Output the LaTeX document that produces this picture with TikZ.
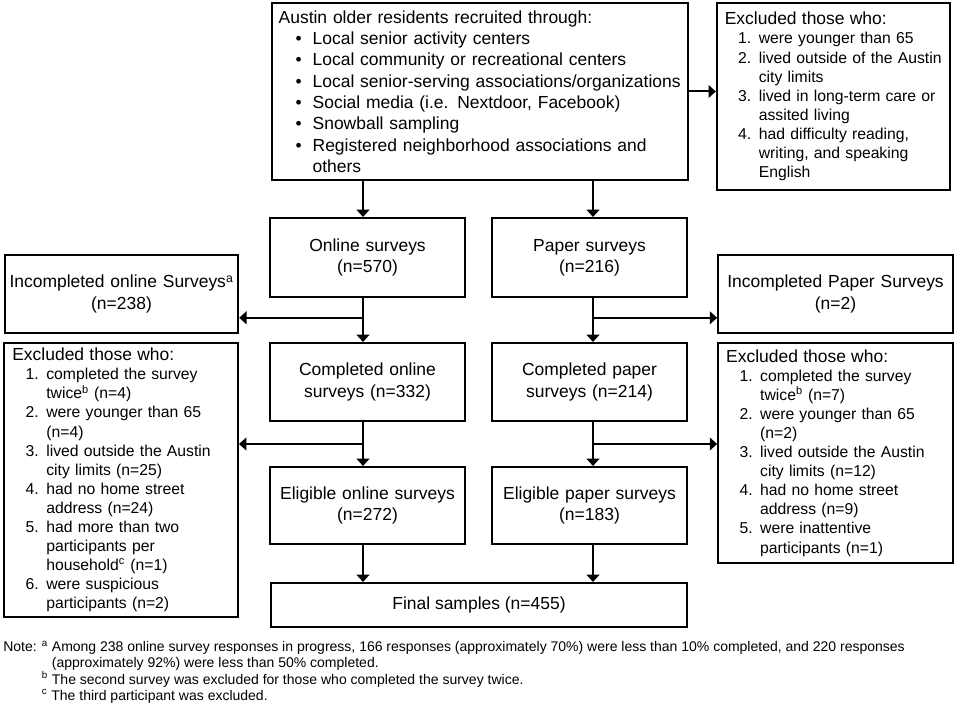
\documentclass[tikz,border=0pt]{standalone}
\usepackage{fontspec}
\setmainfont{Liberation Sans}
\usetikzlibrary{arrows.meta}
\usetikzlibrary{calc}

\tikzset{
  box/.style={draw, line width=1.5pt, inner xsep=6pt, inner ysep=0pt},
  bigtxt/.style={font=\fontsize{13.1}{16}\selectfont},
  smalltxt/.style={font=\fontsize{11.8}{14.3}\selectfont},
  notetxt/.style={font=\fontsize{10.5}{12.1}\selectfont},
  flow/.style={line width=1.5pt, -{Triangle[length=5.5pt,width=9.5pt]}},
}
\newcommand{\numitem}[1]{\hspace*{10pt}\makebox[15.5pt][l]{#1}}
\newcommand{\bulitem}{\hspace*{12.75pt}\makebox[12.75pt][l]{\textbullet}}
\newcommand{\wrapnum}{\hspace*{25.5pt}}
\newcommand{\exclhead}{{\fontsize{13.1}{14.3}\selectfont Excluded those who:}}

\begin{document}
\begin{tikzpicture}[x=0.75pt,y=0.75pt,yscale=-1,xscale=1]
\useasboundingbox (0,0) rectangle (957,710);

%Shape: Rectangle [recruitment]
\node[box, bigtxt, inner xsep=5pt, minimum width=312pt, minimum height=132.75pt, text width=302pt, align=left] (recruit) at (480,91.5) {Austin older residents recruited through:\\
\bulitem Local senior activity centers\\
\bulitem Local community or recreational centers\\
\bulitem Local senior-serving associations/organizations\\
\bulitem Social media (i.e. Nextdoor, Facebook)\\
\bulitem Snowball sampling\\
\bulitem Registered neighborhood associations and\\
\wrapnum others};
%Shape: Rectangle [first exclusion]
\node[box, smalltxt, minimum width=175pt, minimum height=140.25pt, text width=163pt, align=left] (exclTop) at (833.5,96.5) {\exclhead\\
\numitem{1.}were younger than 65\\
\numitem{2.}lived outside of the Austin\\
\wrapnum city limits\\
\numitem{3.}lived in long-term care or\\
\wrapnum assited living\\
\numitem{4.}had difficulty reading,\\
\wrapnum writing, and speaking\\
\wrapnum English};

%Shape: Rectangle [survey modes]
\node[box, bigtxt, minimum width=146.25pt, minimum height=59.25pt, text width=134pt, align=center] (online) at (367.5,257.5) {Online surveys\\(n=570)};
\node[box, bigtxt, minimum width=146.25pt, minimum height=59.25pt, text width=134pt, align=center] (paper) at (589.5,257.5) {Paper surveys\\(n=216)};

%Shape: Rectangle [incompleted]
\node[box, bigtxt, inner xsep=1pt, minimum width=175pt, minimum height=58.5pt, text width=173pt, align=center] (incOnline) at (121.5,294) {Incompleted online Surveys\textsuperscript{a}\\(n=238)};
\node[box, bigtxt, inner xsep=1pt, minimum width=176pt, minimum height=58.5pt, text width=174pt, align=center] (incPaper) at (835.5,294) {Incompleted Paper Surveys\\(n=2)};

%Shape: Rectangle [completed]
\node[box, bigtxt, minimum width=146.25pt, minimum height=58.5pt, text width=134pt, align=center] (compOnline) at (367.5,382) {Completed online\\surveys (n=332)};
\node[box, bigtxt, minimum width=146.25pt, minimum height=58.5pt, text width=134pt, align=center] (compPaper) at (589.5,382) {Completed paper\\surveys (n=214)};

%Shape: Rectangle [second exclusion]
\node[box, smalltxt, minimum width=175.5pt, minimum height=205.5pt, text width=163pt, align=left] (exclOnline) at (121,480) {\exclhead\\
\numitem{1.}completed the survey\\
\wrapnum twice\textsuperscript{b} (n=4)\\
\numitem{2.}were younger than 65\\
\wrapnum (n=4)\\
\numitem{3.}lived outside the Austin\\
\wrapnum city limits (n=25)\\
\numitem{4.}had no home street\\
\wrapnum address (n=24)\\
\numitem{5.}had more than two\\
\wrapnum participants per\\
\wrapnum household\textsuperscript{c} (n=1)\\
\numitem{6.}were suspicious\\
\wrapnum participants (n=2)};
\node[box, smalltxt, minimum width=176pt, minimum height=165pt, text width=164pt, align=left] (exclPaper) at (835.5,453) {\exclhead\\
\numitem{1.}completed the survey\\
\wrapnum twice\textsuperscript{b} (n=7)\\
\numitem{2.}were younger than 65\\
\wrapnum (n=2)\\
\numitem{3.}lived outside the Austin\\
\wrapnum city limits (n=12)\\
\numitem{4.}had no home street\\
\wrapnum address (n=9)\\
\numitem{5.}were inattentive\\
\wrapnum participants (n=1)};

%Shape: Rectangle [eligible]
\node[box, bigtxt, minimum width=146.25pt, minimum height=57.75pt, text width=134pt, align=center] (eligOnline) at (367.5,505.5) {Eligible online surveys\\(n=272)};
\node[box, bigtxt, minimum width=146.25pt, minimum height=57.75pt, text width=134pt, align=center] (eligPaper) at (589.5,505.5) {Eligible paper surveys\\(n=183)};

%Shape: Rectangle [final]
\node[box, bigtxt, minimum width=312pt, minimum height=33pt] (final) at (479,605) {Final samples (n=455)};

% Text Node
\node[notetxt, anchor=north west, inner sep=0pt, align=left] (note) at (3,641) {Note: \textsuperscript{a} Among 238 online survey responses in progress, 166 responses (approximately 70\%) were less than 10\% completed, and 220 responses\\
\phantom{Note: \textsuperscript{a} }(approximately 92\%) were less than 50\% completed.\\
\phantom{Note: }\textsuperscript{b} The second survey was excluded for those who completed the survey twice.\\
\phantom{Note: }\textsuperscript{c} The third participant was excluded.};

%Straight Lines
\coordinate (colL) at (363,0);
\coordinate (colR) at (593,0);
\draw[flow] (recruit.south -| colL) -- (online.north -| colL);
\draw[flow] (recruit.south -| colR) -- (paper.north -| colR);
\draw[flow] (recruit.east) -- (recruit.east -| exclTop.west);

\draw[flow] (online.south -| colL) -- (compOnline.north -| colL);
\draw[flow] (paper.south -| colR) -- (compPaper.north -| colR);
\coordinate (brOnA) at ($(online.south -| colL)!0.45!(compOnline.north -| colL)$);
\coordinate (brPaA) at ($(paper.south -| colR)!0.45!(compPaper.north -| colR)$);
\draw[flow] (brOnA) -- (brOnA -| incOnline.east);
\draw[flow] (brPaA) -- (brPaA -| incPaper.west);

\draw[flow] (compOnline.south -| colL) -- (eligOnline.north -| colL);
\draw[flow] (compPaper.south -| colR) -- (eligPaper.north -| colR);
\coordinate (brOnB) at ($(compOnline.south -| colL)!0.5!(eligOnline.north -| colL)$);
\coordinate (brPaB) at ($(compPaper.south -| colR)!0.5!(eligPaper.north -| colR)$);
\draw[flow] (brOnB) -- (brOnB -| exclOnline.east);
\draw[flow] (brPaB) -- (brPaB -| exclPaper.west);

\draw[flow] (eligOnline.south -| colL) -- (final.north -| colL);
\draw[flow] (eligPaper.south -| colR) -- (final.north -| colR);

\end{tikzpicture}
\end{document}
